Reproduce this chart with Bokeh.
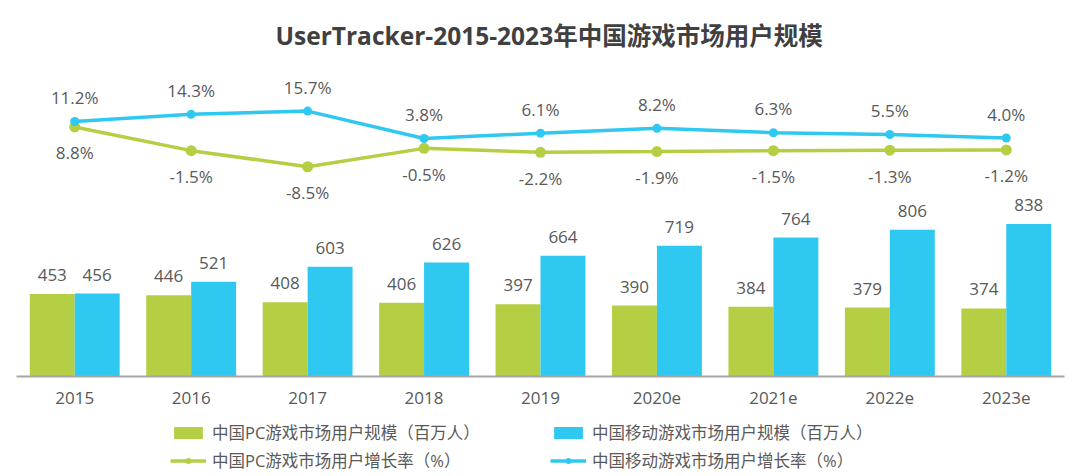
from bokeh.plotting import figure
from bokeh.layouts import column
from bokeh.models import ColumnDataSource, Range1d, Legend, LegendItem, FactorRange
from bokeh.transform import dodge
from bokeh.core.properties import value
from bokeh.embed import file_html
from bokeh.resources import INLINE

years = ["2015", "2016", "2017", "2018", "2019", "2020e", "2021e", "2022e", "2023e"]
pc_users = [453, 446, 408, 406, 397, 390, 384, 379, 374]
mobile_users = [456, 521, 603, 626, 664, 719, 764, 806, 838]
pc_growth = [8.8, -1.5, -8.5, -0.5, -2.2, -1.9, -1.5, -1.3, -1.2]
mobile_growth = [11.2, 14.3, 15.7, 3.8, 6.1, 8.2, 6.3, 5.5, 4.0]

title_text = "UserTracker-2015-2023年中国游戏市场用户规模"
legend_labels = ["中国PC游戏市场用户规模（百万人）", "中国移动游戏市场用户规模（百万人）",
                 "中国PC游戏市场用户增长率（%）", "中国移动游戏市场用户增长率（%）"]

GREEN = "#b5cf45"
CYAN = "#2ec8f0"
TXT = "#595959"
FONT = "'Open Sans', 'Noto Sans CJK SC'"

src = ColumnDataSource(dict(
    years=years,
    pc=pc_users, mob=mobile_users,
    pc_lbl=[str(v) for v in pc_users], mob_lbl=[str(v) for v in mobile_users],
    pg=pc_growth, mg=mobile_growth,
    pg_lbl=[f"{v:.1f}%" for v in pc_growth], mg_lbl=[f"{v:.1f}%" for v in mobile_growth],
))

xr = FactorRange(factors=years)
p = figure(width=1080, height=416, x_range=xr,
           y_range=Range1d(0, 1737), output_backend="svg", toolbar_location=None,
           min_border_left=16, min_border_right=16, min_border_top=60, min_border_bottom=40)
p.extra_y_ranges = {"pct": Range1d(-99.7, 37.7)}

p.title.text = title_text
p.title.align = "left"
p.title.text_font = FONT
p.title.text_font_size = "24.5px"
p.title.text_font_style = "bold"
p.title.text_color = "#404040"
p.title.standoff = 18
p.title.offset = 259

p.outline_line_color = None
p.grid.grid_line_color = None
p.yaxis.visible = False

xa = p.xaxis[0]
xa.axis_line_color = "#a6a6a6"
xa.axis_line_width = 2
xa.major_tick_line_color = None
xa.minor_tick_line_color = None
xa.major_tick_out = 0
xa.major_tick_in = 0
xa.major_label_text_font = FONT
xa.major_label_text_font_size = "17px"
xa.major_label_text_color = TXT
xa.major_label_standoff = 15

bw = 0.386
off = 0.193


def draw_series(fig, visible=True):
    b_pc = fig.vbar(x=dodge("years", -off, range=xr), top="pc", width=bw, source=src,
                    fill_color=GREEN, line_color=None, visible=visible)
    b_mob = fig.vbar(x=dodge("years", off, range=xr), top="mob", width=bw, source=src,
                     fill_color=CYAN, line_color=None, visible=visible)
    l_pc = fig.line(x="years", y="pg", source=src, y_range_name="pct", line_color=GREEN,
                    line_width=3.5, visible=visible)
    d_pc = fig.scatter(x="years", y="pg", source=src, y_range_name="pct", size=11,
                       fill_color=GREEN, line_color=None, visible=visible)
    l_m = fig.line(x="years", y="mg", source=src, y_range_name="pct", line_color=CYAN,
                   line_width=3.5, visible=visible)
    d_m = fig.scatter(x="years", y="mg", source=src, y_range_name="pct", size=9,
                      fill_color=CYAN, line_color=None, visible=visible)
    return b_pc, b_mob, l_pc, d_pc, l_m, d_m


draw_series(p)

lab = dict(text_font=value(FONT), text_font_size="17px", text_color=TXT,
           text_align="center", text_baseline="middle")
p.text(x=dodge("years", -off, range=xr), y="pc", text="pc_lbl", y_offset=-19, source=src, **lab)
p.text(x=dodge("years", off, range=xr), y="mob", text="mob_lbl", y_offset=-19, source=src, **lab)
p.text(x="years", y="mg", text="mg_lbl", y_range_name="pct", y_offset=-24, source=src, **lab)
p.text(x="years", y="pg", text="pg_lbl", y_range_name="pct", y_offset=26, source=src, **lab)

# legend strip below the chart
lf = figure(width=1080, height=60, x_range=xr, y_range=Range1d(0, 1737),
            x_axis_type=None, y_axis_type=None, output_backend="svg", toolbar_location=None,
            min_border=0)
lf.extra_y_ranges = {"pct": Range1d(-99.7, 37.7)}
lf.outline_line_color = None
lf.grid.grid_line_color = None
b_pc, b_mob, l_pc, d_pc, l_m, d_m = draw_series(lf, visible=False)

legend = Legend(items=[
    LegendItem(label=legend_labels[0], renderers=[b_pc]),
    LegendItem(label=legend_labels[2], renderers=[l_pc, d_pc]),
    LegendItem(label=legend_labels[1], renderers=[b_mob]),
    LegendItem(label=legend_labels[3], renderers=[l_m, d_m]),
], location=(154, 4), orientation="vertical", ncols=2,
    glyph_width=36, glyph_height=15, label_standoff=6, label_width=334, label_height=19,
    spacing=4, padding=0, margin=0,
    border_line_color=None, background_fill_alpha=0,
    inactive_fill_alpha=0,
    label_text_font=FONT, label_text_font_size="16.5px", label_text_color=TXT)
lf.add_layout(legend, "center")

open("out.html", "w").write(file_html(column(p, lf, spacing=0), INLINE))
